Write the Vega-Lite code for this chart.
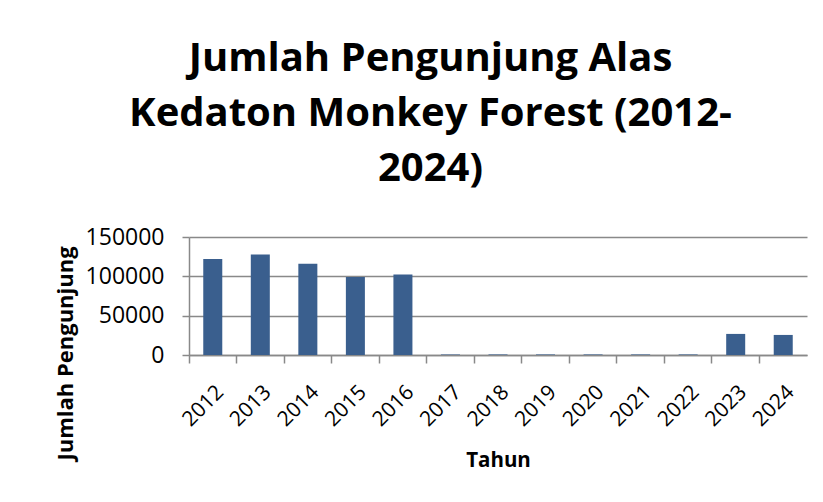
{
  "$schema": "https://vega.github.io/schema/vega-lite/v6.json",
  "width": 618,
  "height": 118,
  "autosize": {"type": "none"},
  "padding": {"left": 189, "top": 237, "right": 16, "bottom": 147},
  "background": "white",
  "title": {
    "text": ["Jumlah Pengunjung Alas", "Kedaton Monkey Forest (2012-", "2024)"],
    "font": "Open Sans",
    "fontSize": 40,
    "fontWeight": "bold",
    "color": "black",
    "lineHeight": 55,
    "anchor": "middle",
    "frame": "bounds",
    "offset": 37
  },
  "config": {
    "view": {"stroke": null},
    "axis": {
      "labelFont": "Open Sans",
      "titleFont": "Open Sans",
      "labelColor": "black",
      "titleColor": "black",
      "domainColor": "#898989",
      "tickColor": "#898989",
      "gridColor": "#898989",
      "domainWidth": 1.5,
      "tickWidth": 1.5,
      "gridWidth": 1.5
    },
    "axisY": {
      "values": [0, 50000, 100000, 150000],
      "format": "d",
      "titleFontSize": 22,
      "titleFontWeight": "bold",
      "titleX": -124,
      "titleY": 116,
      "titleAngle": -90,
      "titleAlign": "center",
      "titleBaseline": "middle",
      "labelFontSize": 23,
      "labelPadding": 18,
      "labelOverlap": false,
      "labelFlush": false,
      "tickSize": 7,
      "grid": true,
      "domain": true
    }
  },
  "data": {
    "values": [
      {"tahun": "2012", "jumlah": 121900},
      {"tahun": "2013", "jumlah": 127900},
      {"tahun": "2014", "jumlah": 116000},
      {"tahun": "2015", "jumlah": 99000},
      {"tahun": "2016", "jumlah": 102400},
      {"tahun": "2017", "jumlah": 700},
      {"tahun": "2018", "jumlah": 700},
      {"tahun": "2019", "jumlah": 700},
      {"tahun": "2020", "jumlah": 700},
      {"tahun": "2021", "jumlah": 700},
      {"tahun": "2022", "jumlah": 700},
      {"tahun": "2023", "jumlah": 26800},
      {"tahun": "2024", "jumlah": 25500}
    ]
  },
  "layer": [
    {
      "mark": {"type": "bar", "color": "#3A5F8E", "width": {"band": 0.4}},
      "encoding": {
        "x": {
          "field": "tahun",
          "type": "ordinal",
          "scale": {"paddingInner": 0, "paddingOuter": 0},
          "axis": {
            "orient": "bottom",
            "title": "Tahun",
            "titleFontSize": 20.5,
            "titleFontWeight": "bold",
            "titleY": 105,
            "titleBaseline": "middle",
            "labelAngle": -45,
            "labelAlign": "right",
            "labelBaseline": "top",
            "labelFontSize": 21,
            "labelPadding": 26,
            "labelOverlap": false,
            "ticks": false,
            "domain": true,
            "grid": false
          }
        },
        "y": {
          "field": "jumlah",
          "type": "quantitative",
          "scale": {"domain": [0, 150000], "nice": false},
          "axis": {"title": "Jumlah Pengunjung", "values": [0, 50000, 100000, 150000]}
        }
      }
    },
    {
      "mark": {"type": "bar", "opacity": 0},
      "encoding": {
        "x": {
          "field": "tahun",
          "type": "ordinal",
          "axis": {
            "orient": "bottom",
            "title": null,
            "labels": false,
            "ticks": true,
            "tickSize": 8,
            "bandPosition": 0,
            "domain": false,
            "grid": false
          }
        },
        "y": {
          "field": "jumlah",
          "type": "quantitative",
          "axis": {"title": "Jumlah Pengunjung", "values": [0, 50000, 100000, 150000]}
        }
      }
    }
  ],
  "resolve": {"axis": {"x": "independent"}}
}
